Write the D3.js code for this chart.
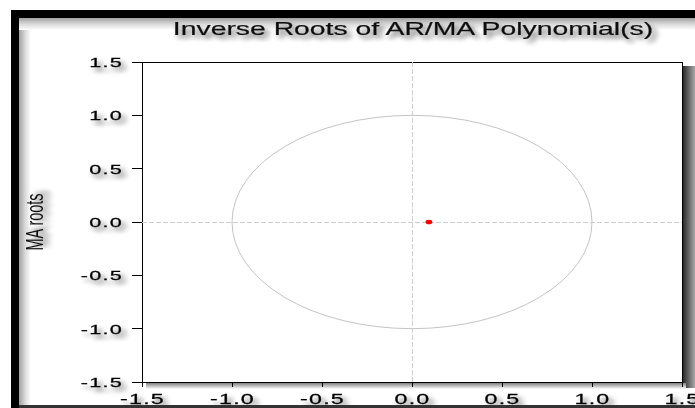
<!DOCTYPE html>
<html>
<head>
<meta charset="utf-8">
<script src="https://cdn.jsdelivr.net/npm/d3@7"></script>
<style>
  html, body { margin: 0; padding: 0; background: #fff; }
  svg { display: block; font-family: "Liberation Sans", Arial, sans-serif; }
</style>
</head>
<body>
<svg id="chart" width="695" height="408"></svg>
<script>
// Valeurs du graphique
const rootsRe = [0.094];
const rootsIm = [0.0];
const xTicks = [-1.5, -1.0, -0.5, 0.0, 0.5, 1.0, 1.5];
const yTicks = [-1.5, -1.0, -0.5, 0.0, 0.5, 1.0, 1.5];
const titleText = 'Inverse Roots of AR/MA Polynomial(s)';
const yTitle = 'MA roots';

const W = 695, H = 408;
const margin = { left: 142, right: 13, top: 62, bottom: 26 };
const sx = 1.6; // étirement horizontal du texte

const svg = d3.select('#chart');
const defs = svg.append('defs');

// ombre portée du texte
const f = defs.append('filter').attr('id', 'tshadow')
  .attr('x', '-20%').attr('y', '-50%').attr('width', '160%').attr('height', '220%');
f.append('feGaussianBlur').attr('in', 'SourceAlpha').attr('stdDeviation', 2).attr('result', 'b');
f.append('feOffset').attr('in', 'b').attr('dx', 2.5).attr('dy', 4).attr('result', 'o');
f.append('feComponentTransfer').attr('in', 'o').attr('result', 'c')
  .append('feFuncA').attr('type', 'linear').attr('slope', 0.6);
const fm = f.append('feMerge');
fm.append('feMergeNode').attr('in', 'c');
fm.append('feMergeNode').attr('in', 'SourceGraphic');

function grad(id, x2, y2, stops) {
  const g = defs.append('linearGradient').attr('id', id)
    .attr('x1', 0).attr('y1', 0).attr('x2', x2).attr('y2', y2);
  stops.forEach(s => g.append('stop').attr('offset', s[0]).attr('stop-color', s[1]));
}
grad('gLeft', 1, 0, [[0, '#a0a0a0'], [0.5, '#d8d8d8'], [1, '#ffffff']]);
grad('gTop', 0, 1, [[0, '#a0a0a0'], [0.5, '#d8d8d8'], [1, '#ffffff']]);
grad('gRight', 1, 0, [[0, '#2a2a2a'], [0.5, '#6a6a6a'], [1, '#a8a8a8']]);
grad('gBottom', 0, 1, [[0, '#808080'], [1, '#ffffff']]);

// cadre
svg.append('rect').attr('x', 19).attr('y', 18).attr('width', 12).attr('height', H - 18).attr('fill', 'url(#gLeft)');
svg.append('rect').attr('x', 19).attr('y', 18).attr('width', W - 19).attr('height', 12).attr('fill', 'url(#gTop)');
svg.append('rect').attr('x', 11).attr('y', 10).attr('width', W - 11).attr('height', 8).attr('fill', '#000');
svg.append('rect').attr('x', 11).attr('y', 10).attr('width', 8).attr('height', H - 10).attr('fill', '#000');

const x = d3.scaleLinear().domain([-1.5, 1.5]).range([margin.left, W - margin.right]);
const y = d3.scaleLinear().domain([-1.5, 1.5]).range([H - margin.bottom, margin.top]);

// ombre du cadre du graphique
svg.append('rect').attr('x', x(1.5) + 1).attr('y', y(1.5) + 4)
  .attr('width', W - x(1.5) - 1).attr('height', y(-1.5) - y(1.5) + 2).attr('fill', 'url(#gRight)');
svg.append('rect').attr('x', x(-1.5) + 4).attr('y', y(-1.5) + 1)
  .attr('width', x(1.5) - x(-1.5)).attr('height', 6).attr('fill', 'url(#gBottom)');

// zone du graphique
svg.append('rect').attr('x', x(-1.5)).attr('y', y(1.5))
  .attr('width', x(1.5) - x(-1.5)).attr('height', y(-1.5) - y(1.5))
  .attr('fill', '#fff').attr('stroke', '#000').attr('stroke-width', 1)
  .attr('shape-rendering', 'crispEdges');

// lignes zéro
svg.append('line').attr('x1', x(-1.5)).attr('x2', x(1.5)).attr('y1', y(0)).attr('y2', y(0))
  .attr('stroke', '#cfcfcf').attr('stroke-dasharray', '5,2').attr('shape-rendering', 'crispEdges');
svg.append('line').attr('x1', x(0)).attr('x2', x(0)).attr('y1', y(1.5)).attr('y2', y(-1.5))
  .attr('stroke', '#cfcfcf').attr('stroke-dasharray', '5,2').attr('shape-rendering', 'crispEdges');

// cercle unité
svg.append('ellipse').attr('cx', x(0)).attr('cy', y(0))
  .attr('rx', x(1) - x(0)).attr('ry', y(0) - y(1))
  .attr('fill', 'none').attr('stroke', '#c4c4c4').attr('stroke-width', 1);

// racines
svg.selectAll('.root').data(rootsRe.map((r, i) => ({ re: r, im: rootsIm[i] })))
  .enter().append('ellipse').attr('class', 'root')
  .attr('cx', d => x(d.re)).attr('cy', d => y(d.im))
  .attr('rx', 3.4).attr('ry', 2.3).attr('fill', '#ff0000');

const fmt = d3.format('.1f');
const lab = v => fmt(v).replace('−', '-');

// axe Y
svg.selectAll('.ytick').data(yTicks).enter().append('line')
  .attr('x1', x(-1.5) - 10).attr('x2', x(-1.5)).attr('y1', d => y(d)).attr('y2', d => y(d))
  .attr('stroke', '#000').attr('shape-rendering', 'crispEdges');
svg.selectAll('.ylab').data(yTicks).enter().append('text')
  .attr('transform', d => `translate(${x(-1.5) - 19},${y(d) + 5}) scale(${sx},1)`)
  .attr('text-anchor', 'end').attr('font-size', 13.5).attr('letter-spacing', 0.8)
  .attr('fill', '#000').attr('stroke', '#000').attr('stroke-width', 0.25)
  .attr('filter', 'url(#tshadow)')
  .text(lab);

// axe X
svg.selectAll('.xtick').data(xTicks).enter().append('line')
  .attr('x1', d => x(d)).attr('x2', d => x(d)).attr('y1', y(-1.5)).attr('y2', y(-1.5) + 5)
  .attr('stroke', '#000').attr('shape-rendering', 'crispEdges');
svg.selectAll('.xlab').data(xTicks).enter().append('text')
  .attr('transform', d => `translate(${x(d) + 0.5},${y(-1.5) + 22}) scale(${sx},1)`)
  .attr('text-anchor', 'middle').attr('font-size', 14.5).attr('letter-spacing', 0.8)
  .attr('fill', '#000').attr('stroke', '#000').attr('stroke-width', 0.25)
  .attr('filter', 'url(#tshadow)')
  .text(lab);

// titre
svg.append('text')
  .attr('transform', `translate(${(x(-1.5) + x(1.5)) / 2 + 1},35) scale(1.62,1)`)
  .attr('text-anchor', 'middle').attr('font-size', 17.5).attr('fill', '#111')
  .attr('stroke', '#111').attr('stroke-width', 0.2)
  .attr('filter', 'url(#tshadow)')
  .text(titleText);

// titre axe Y
svg.append('text')
  .attr('transform', `translate(43,${y(0)}) scale(${sx},1) rotate(-90)`)
  .attr('text-anchor', 'middle').attr('font-size', 14.5).attr('fill', '#111')
  .attr('filter', 'url(#tshadow)')
  .text(yTitle);

// ligne du bas
svg.append('rect').attr('x', 19).attr('y', 405).attr('width', W - 19).attr('height', 3).attr('fill', '#333');
</script>
</body>
</html>
